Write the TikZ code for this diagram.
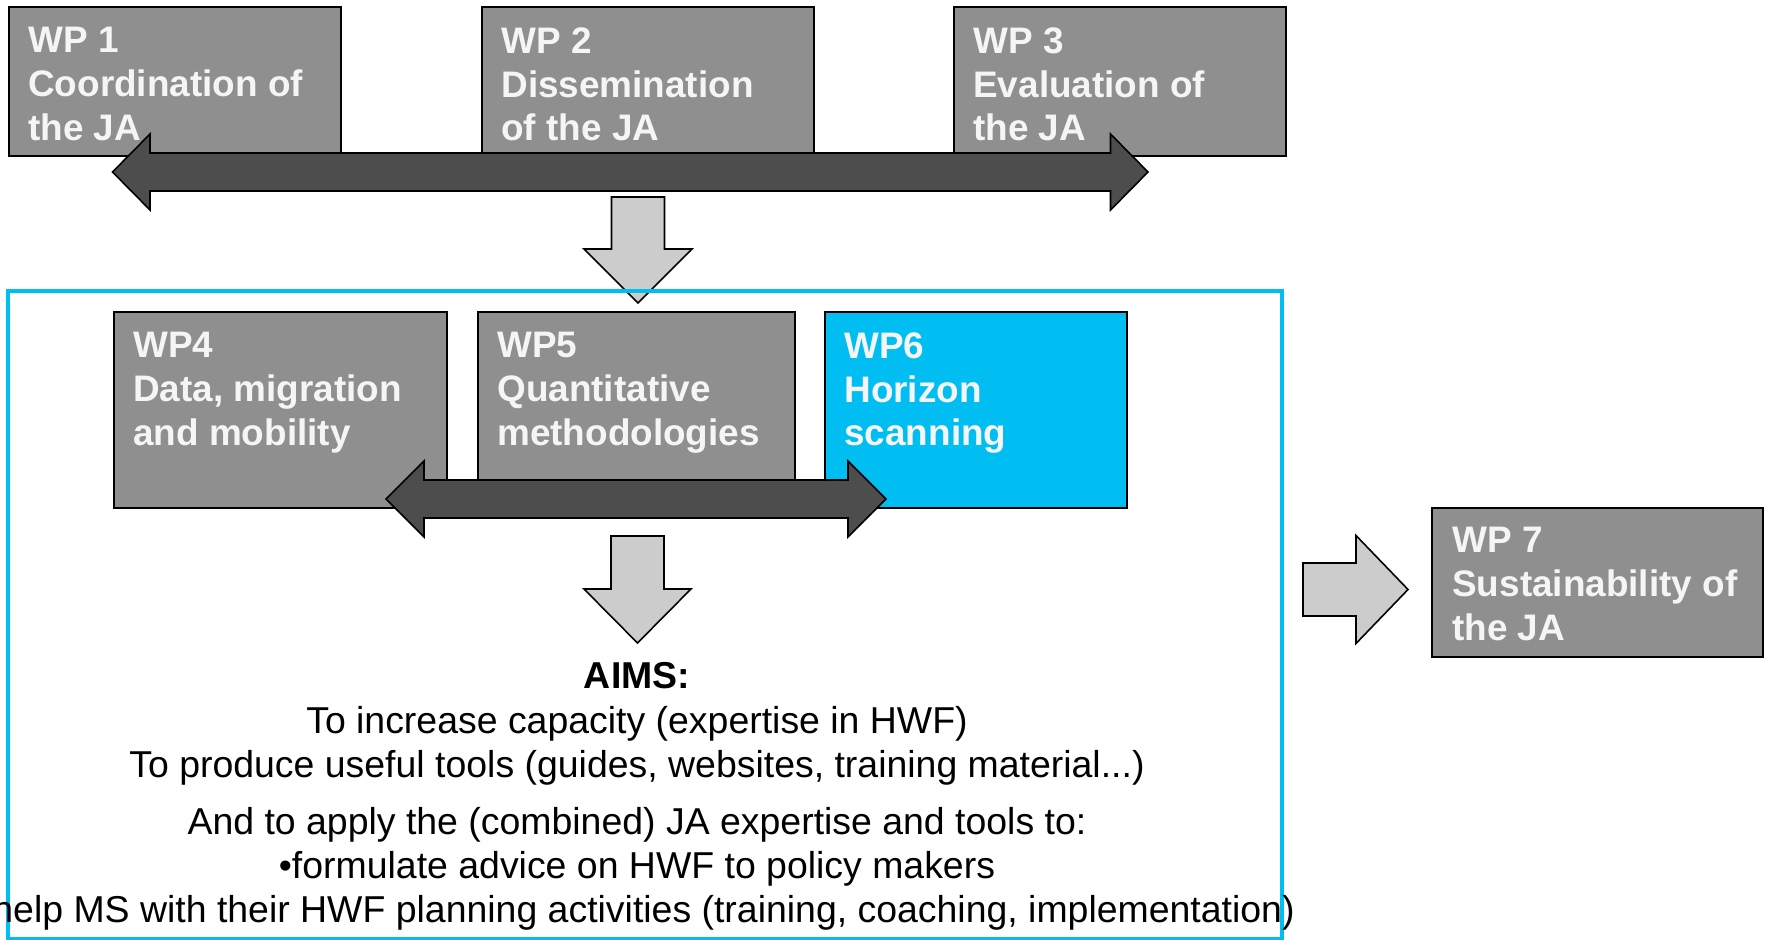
\documentclass[tikz,border=0pt]{standalone}
\usepackage{fontspec}
\setmainfont{Liberation Sans}
\usetikzlibrary{positioning}
\definecolor{wpgray}{RGB}{143,143,143}
\definecolor{wpcyan}{RGB}{0,190,242}
\definecolor{arrowdark}{RGB}{77,77,77}
\definecolor{arrowlight}{RGB}{204,204,204}
\definecolor{wpwhite}{RGB}{245,245,245}

\begin{document}
\begin{tikzpicture}[
  wpbox/.style={rectangle, draw=black, line width=1.1pt, fill=wpgray, anchor=north west, inner sep=0pt},
  wplabel/.style={text=wpwhite, font=\fontsize{21}{25}\selectfont\bfseries, align=left, inner sep=0pt},
  darkarrow/.style={draw=black, line width=0.9pt, fill=arrowdark, line join=miter},
  lightarrow/.style={draw=black, line width=0.9pt, fill=arrowlight, line join=miter},
  frame/.style={draw=wpcyan, line width=2.6pt}
]
\useasboundingbox (0,0) rectangle (35.34,-18.8);

% coordination work packages
\node[wpbox, minimum width=6.64cm, minimum height=2.98cm] (wp1) at (0.16,-0.12) {};
\node[wpbox, minimum width=6.64cm, minimum height=2.98cm] (wp2) at (9.62,-0.12) {};
\node[wpbox, minimum width=6.64cm, minimum height=2.98cm] (wp3) at (19.06,-0.12) {};
\node[wplabel, below right=0.42cm and 0.4cm of wp1.north west, anchor=north west] (wp1txt) {WP 1\\Coordination of\\the JA};
\node[wplabel, below right=0.42cm and 0.4cm of wp2.north west, anchor=north west] (wp2txt) {WP 2\\Dissemination\\of the JA};
\node[wplabel, below right=0.42cm and 0.4cm of wp3.north west, anchor=north west] (wp3txt) {WP 3\\Evaluation of\\the JA};

% horizontal link between WP1 and WP3
\draw[darkarrow] (2.25,-3.44) -- ++(0.75,0.76) -- ++(0,-0.38) -- (22.21,-3.06)
  -- ++(0,0.38) -- (22.96,-3.44) -- ++(-0.75,-0.76) -- ++(0,0.38)
  -- (3,-3.82) -- ++(0,-0.38) -- cycle;

% down into the core work packages
\draw[lightarrow] (12.23,-3.94) -- (13.29,-3.94) -- (13.29,-4.98) -- (13.84,-4.98)
  -- (12.76,-6.06) -- (11.68,-4.98) -- (12.23,-4.98) -- cycle;

\draw[frame] (0.16,-5.82) rectangle (25.64,-18.78);

% core work packages
\node[wpbox, minimum width=6.66cm, minimum height=3.92cm] (wp4) at (2.26,-6.22) {};
\node[wpbox, minimum width=6.34cm, minimum height=3.92cm] (wp5) at (9.54,-6.22) {};
\node[wpbox, fill=wpcyan, minimum width=6.04cm, minimum height=3.92cm] (wp6) at (16.48,-6.22) {};
\node[wplabel, below right=0.42cm and 0.4cm of wp4.north west, anchor=north west] (wp4txt) {WP4\\Data, migration\\and mobility};
\node[wplabel, below right=0.42cm and 0.4cm of wp5.north west, anchor=north west] (wp5txt) {WP5\\Quantitative\\methodologies};
\node[wplabel, below right=0.42cm and 0.4cm of wp6.north west, anchor=north west] (wp6txt) {WP6\\Horizon\\scanning};

% exchange between WP4, WP5 and WP6
\draw[darkarrow] (7.72,-9.98) -- ++(0.76,0.76) -- ++(0,-0.38) -- (16.96,-9.6)
  -- ++(0,0.38) -- (17.72,-9.98) -- ++(-0.76,-0.76) -- ++(0,0.38)
  -- (8.48,-10.36) -- ++(0,-0.38) -- cycle;

\draw[lightarrow] (12.22,-10.72) -- (13.28,-10.72) -- (13.28,-11.78) -- (13.82,-11.78)
  -- (12.75,-12.86) -- (11.68,-11.78) -- (12.22,-11.78) -- cycle;

% aims
\node[align=center, inner sep=0pt, anchor=north, font=\fontsize{21.3}{25.2}\selectfont] (aims) at (12.74,-13.25)
  {\textbf{AIMS:}\\
   To increase capacity (expertise in HWF)\\
   To produce useful tools (guides, websites, training material...)\\[7pt]
   And to apply the (combined) JA expertise and tools to:\\
   \textbullet formulate advice on HWF to policy makers\\
   \textbullet help MS with their HWF planning activities (training, coaching, implementation)};

% towards sustainability
\node[wpbox, minimum width=6.62cm, minimum height=2.98cm] (wp7) at (28.62,-10.14) {};
\node[wplabel, below right=0.4cm and 0.42cm of wp7.north west, anchor=north west] (wp7txt) {WP 7\\Sustainability of\\the JA};
\draw[lightarrow] (26.06,-11.26) -- (27.12,-11.26) -- (27.12,-10.71) -- (28.16,-11.79)
  -- (27.12,-12.87) -- (27.12,-12.32) -- (26.06,-12.32) -- cycle;
\end{tikzpicture}
\end{document}
